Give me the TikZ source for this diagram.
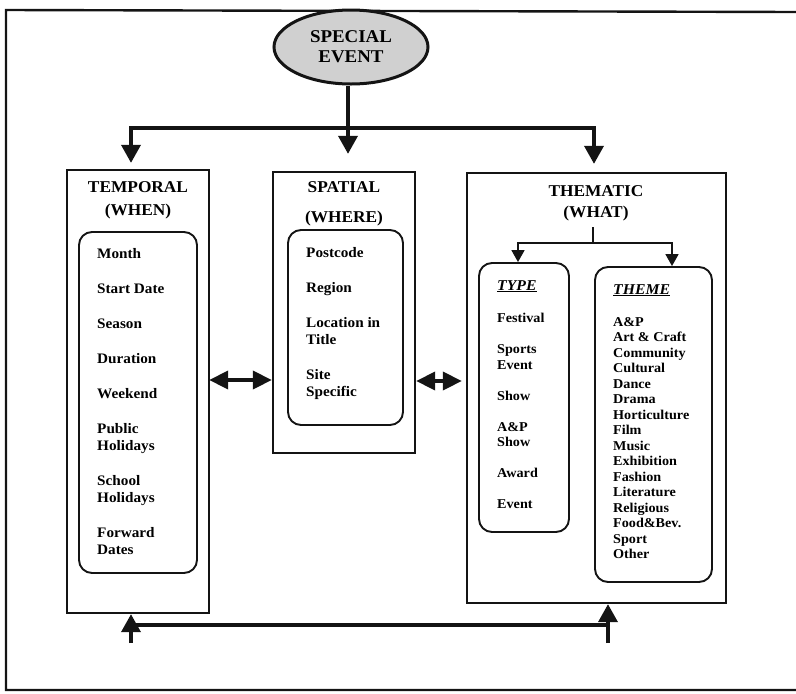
\documentclass[tikz,border=0pt]{standalone}
\usepackage{fontspec}
\setmainfont{Liberation Serif}[FakeStretch=1.05]
\definecolor{gris}{RGB}{20,20,20}
\definecolor{grisclair}{RGB}{208,208,208}
\usetikzlibrary{arrows.meta,positioning,shapes.geometric}
\tikzset{
  boite/.style={draw=gris,line width=2.3pt,rectangle,inner sep=0pt},
  liste/.style={draw=gris,line width=1.9pt,rectangle,rounded corners=13pt,inner sep=0pt},
  titre/.style={font=\fontsize{16.5}{23}\selectfont\bfseries,align=center,inner sep=0pt,anchor=north},
  entree/.style={font=\fontsize{14.5}{17}\selectfont\bfseries,align=left,inner sep=0pt,anchor=north west},
  petite/.style={font=\fontsize{13.5}{15.5}\selectfont\bfseries,align=left,inner sep=0pt,anchor=north west},
  rubrique/.style={font=\fontsize{15}{18}\selectfont\bfseries\itshape,inner sep=0pt,anchor=north west},
  fleche/.style={draw=gris,line width=3.6pt,-{Triangle[length=18pt,width=19pt]}},
  trait/.style={draw=gris,line width=3.6pt},
  bifleche/.style={draw=gris,line width=3.6pt,{Triangle[length=19pt,width=18pt]}-{Triangle[length=19pt,width=18pt]}},
  branche/.style={draw=gris,line width=1.8pt},
  brancheflc/.style={branche,-{Triangle[length=12pt,width=13pt]}}
}
\begin{document}
\begin{tikzpicture}[x=1pt,y=-1pt]
  \useasboundingbox (0,0) rectangle (796,694);
  % cadre
  \draw[gris,line width=2.4pt] (796,12) -- (6,10) -- (6,690) -- (796,690);
  % evenement
  \node[ellipse,draw=gris,line width=3pt,fill=grisclair,minimum width=154pt,minimum height=74pt,
        inner sep=0pt,align=center,font=\fontsize{18}{20}\selectfont\bfseries] (evenement) at (351,47) {SPECIAL\\EVENT};
  % les trois boites
  \node[boite,minimum width=142pt,minimum height=443pt] (temporel) at (138,391.5) {};
  \node[boite,minimum width=142pt,minimum height=281pt] (spatial) at (344,312.5) {};
  \node[boite,minimum width=259pt,minimum height=430pt] (thematique) at (596.5,388) {};
  \node[liste,minimum width=118pt,minimum height=341pt] (temporelint) at (138,402.5) {};
  \node[liste,minimum width=115pt,minimum height=195pt] (spatialint) at (345.5,327.5) {};
  \node[liste,minimum width=90pt,minimum height=269pt] (type) at (524,397.5) {};
  \node[liste,minimum width=117pt,minimum height=315pt] (theme) at (653.5,424.5) {};
  % titres
  \node[titre] (quand) at (138,181.5) {TEMPORAL\\(WHEN)};
  \node[titre,font=\fontsize{16.5}{30}\selectfont\bfseries] (ou) at (344,181.5) {SPATIAL\\(WHERE)};
  \node[titre,font=\fontsize{16.5}{21}\selectfont\bfseries] (quoi) at (596,185) {THEMATIC\\(WHAT)};
  \node[rubrique] (typetitre) at (497,280) {\underline{TYPE}};
  \node[rubrique] (themetitre) at (613,284) {\underline{THEME}};
  % entrees
  \node[entree] (quandtxt) at (97,248) {Month\\[18pt]Start Date\\[18pt]Season\\[18pt]Duration\\[18pt]Weekend\\[18pt]Public\\Holidays\\[18pt]School\\Holidays\\[18pt]Forward\\Dates};
  \node[entree] (outxt) at (306,247) {Postcode\\[18pt]Region\\[18pt]Location in\\Title\\[18pt]Site\\Specific};
  \node[petite] (typetxt) at (497,313) {Festival\\[15.5pt]Sports\\Event\\[15.5pt]Show\\[15.5pt]A\&P\\Show\\[15.5pt]Award\\[15.5pt]Event};
  \node[petite] (themetxt) at (613,317) {A\&P\\Art \& Craft\\Community\\Cultural\\Dance\\Drama\\Horticulture\\Film\\Music\\Exhibition\\Fashion\\Literature\\Religious\\Food\&Bev.\\Sport\\Other};
  % fleches du haut
  \coordinate (partage) at (348,128);
  \draw[fleche,shorten >=17pt] (evenement.south -| partage) -- (partage |- spatial.north);
  \draw[fleche,shorten >=6pt] (partage) -| ([xshift=-7pt]temporel.north);
  \draw[fleche,shorten >=8pt] (partage) -| ([xshift=-2.5pt]thematique.north);
  % fleches doubles
  \draw[bifleche,shorten <=-1pt] (temporel.east |- 0,380) -- (spatial.west |- 0,380);
  \draw[bifleche,shorten >=4pt] (spatial.east |- 0,381) -- (thematique.west |- 0,381);
  % branche type / theme
  \coordinate (tic) at (593,227);
  \coordinate (fourche) at (593,243);
  \draw[branche] (tic) -- (fourche);
  \draw[brancheflc] (fourche) -| ([xshift=-6pt]type.north);
  \draw[brancheflc] (fourche) -| ([xshift=18.5pt]theme.north);
  % retour du bas
  \coordinate (retourG) at (131,643);
  \coordinate (retourD) at (608,643);
  \draw[fleche] (retourG) -- (retourG |- temporel.south);
  \draw[fleche] (retourD) -- (retourD |- thematique.south);
  \draw[trait] (retourG |- 0,625) -- (retourD |- 0,625);
\end{tikzpicture}
\end{document}
